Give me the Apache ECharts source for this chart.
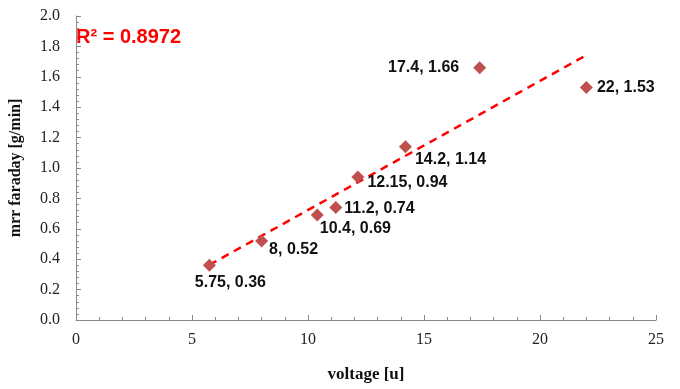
<!DOCTYPE html>
<html>
<head>
<meta charset="utf-8">
<script src="https://cdn.jsdelivr.net/npm/echarts@6/dist/echarts.min.js"></script>
<style>
  html, body { margin: 0; padding: 0; background: #fff; }
  #chart { width: 680px; height: 389px; }
</style>
</head>
<body>
<div id="chart"></div>
<script>
// Measurements: voltage vs material removal rate (Faraday)
const voltage = [5.75, 8, 10.4, 11.2, 12.15, 14.2, 17.4, 22];
const mrrFaraday = [0.36, 0.52, 0.69, 0.74, 0.94, 1.14, 1.66, 1.53];
const rSquaredText = 'R² = 0.8972';

// Where each point's value label sits relative to its marker
const labelPlacement = [
  { position: 'bottom', offset: [21, -2] },
  { position: 'right', offset: [-4, 9] },
  { position: 'right', offset: [-9, 13] },
  { position: 'right', offset: [-3, 1] },
  { position: 'right', offset: [-2, 5] },
  { position: 'right', offset: [-2, 13] },
  { position: 'left', offset: [-9, 0] },
  { position: 'right', offset: [-1, 0] }
];

// Least-squares linear fit over the measured points
const n = voltage.length;
const mx = voltage.reduce((a, b) => a + b, 0) / n;
const my = mrrFaraday.reduce((a, b) => a + b, 0) / n;
let sxy = 0, sxx = 0;
for (let i = 0; i < n; i++) {
  sxy += (voltage[i] - mx) * (mrrFaraday[i] - my);
  sxx += (voltage[i] - mx) ** 2;
}
const slope = sxy / sxx;
const intercept = my - slope * mx;
const xMin = Math.min(...voltage), xMax = Math.max(...voltage);
const trend = [[xMin, intercept + slope * xMin], [xMax, intercept + slope * xMax]];

const points = voltage.map((v, i) => ({
  value: [v, mrrFaraday[i]],
  label: Object.assign({}, labelPlacement[i])
}));

const serif = '"Liberation Serif", "Times New Roman", serif';
const sans = '"Liberation Sans", Arial, sans-serif';

const chart = echarts.init(document.getElementById('chart'));
chart.setOption({
  animation: false,
  backgroundColor: '#ffffff',
  grid: { left: 75, right: 24, top: 16, bottom: 69 },
  xAxis: {
    type: 'value', min: 0, max: 25, interval: 5,
    name: 'voltage [u]', nameLocation: 'middle', nameGap: 46,
    nameTextStyle: { fontFamily: serif, fontWeight: 'bold', fontSize: 17, color: '#111' },
    axisLine: { show: true, lineStyle: { color: '#8a8a8a', width: 1 } },
    axisTick: { show: true, inside: true, length: 5, lineStyle: { color: '#8a8a8a' } },
    minorTick: { show: true, splitNumber: 5, length: 3, lineStyle: { color: '#8a8a8a' } },
    axisLabel: { fontFamily: serif, fontSize: 16, color: '#222', margin: 12 },
    splitLine: { show: false }
  },
  yAxis: {
    type: 'value', min: 0, max: 2, interval: 0.2,
    name: 'mrr faraday [g/min]', nameLocation: 'middle', nameGap: 52,
    nameTextStyle: { fontFamily: serif, fontWeight: 'bold', fontSize: 16, color: '#111' },
    axisLine: { show: true, lineStyle: { color: '#8a8a8a', width: 1 } },
    axisTick: { show: true, inside: true, length: 5, lineStyle: { color: '#8a8a8a' } },
    minorTick: { show: true, splitNumber: 5, length: 3, lineStyle: { color: '#8a8a8a' } },
    axisLabel: { fontFamily: serif, fontSize: 16, color: '#222', margin: 16,
      formatter: v => v.toFixed(1) },
    splitLine: { show: false }
  },
  graphic: [{
    type: 'text', left: 76, top: 27,
    style: { text: rSquaredText, fill: '#ff0000', font: 'bold 20px ' + sans }
  }],
  series: [
    {
      type: 'line', data: trend, symbol: 'none', silent: true, z: 1,
      lineStyle: { color: '#ff0000', width: 2.5, type: [8, 6] }
    },
    {
      type: 'scatter', data: points, symbol: 'diamond', symbolSize: 13, z: 2,
      itemStyle: { color: '#c0504d', opacity: 1 },
      label: {
        show: true, fontFamily: sans, fontWeight: 'bold', fontSize: 16, color: '#111',
        formatter: p => p.value[0] + ', ' + p.value[1]
      }
    }
  ]
});
</script>
</body>
</html>
